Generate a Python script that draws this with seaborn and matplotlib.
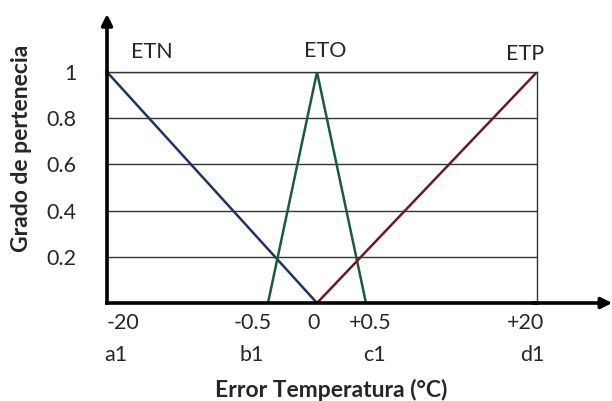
import numpy as np
import pandas as pd
import matplotlib
matplotlib.use("Agg")
import matplotlib.pyplot as plt
import seaborn as sns

# Data: membership functions (x in degC, y = membership degree)
etn_x = [-20, 0]
etn_y = [1, 0]
eto_x = [-0.5, 0, 0.5]
eto_y = [0, 1, 0]
etp_x = [0, 20]
etp_y = [0, 1]

x_ticks = [-20, -0.5, 0, 0.5, 20]
x_tick_labels = ["-20", "-0.5", "0", "+0.5", "+20"]
x_param_labels = ["a1", "b1", "c1", "d1"]
x_param_values = [-20, -0.5, 0.5, 20]
y_ticks = [0.2, 0.4, 0.6, 0.8, 1.0]
y_tick_labels = ["0.2", "0.4", "0.6", "0.8", "1"]

# the drawing is not to scale: breakpoints sit at these fractions of the axis
scale_pos = [0.0, 0.3744, 0.4884, 0.6023, 1.0]

df = pd.concat([
    pd.DataFrame({"x": etn_x, "y": etn_y, "set": "ETN"}),
    pd.DataFrame({"x": eto_x, "y": eto_y, "set": "ETO"}),
    pd.DataFrame({"x": etp_x, "y": etp_y, "set": "ETP"}),
])

sns.set_style("white")
plt.rcParams["font.family"] = ["Lato", "DejaVu Sans"]
fs = 15.5

fig = plt.figure(figsize=(6.12, 4.01), dpi=100)
ax = fig.add_axes([107 / 612, 98 / 401, 430 / 612, 231 / 401])


def fwd(v):
    return np.interp(v, x_ticks, scale_pos)


def inv(p):
    return np.interp(p, scale_pos, x_ticks)


ax.set_xscale("function", functions=(fwd, inv))

palette = {"ETN": "#1f3462", "ETO": "#1d5a3c", "ETP": "#6a1b1e"}
sns.lineplot(data=df, x="x", y="y", hue="set", palette=palette, lw=1.8,
             legend=False, ax=ax, sort=False, estimator=None)

ax.set_xlim(-20, 20)
ax.set_ylim(0, 1)
ax.set_xticks(x_ticks)
ax.set_xticklabels([])
ax.minorticks_off()
ax.set_yticks(y_ticks)
ax.set_yticklabels(y_tick_labels, fontsize=fs)
ax.tick_params(axis="y", length=0, pad=22)
ax.tick_params(axis="x", length=0)
ax.set_xlabel("")
ax.set_ylabel("")

ax.grid(axis="y", color="#333333", lw=1)
ax.grid(axis="x", visible=False)
for s in ["left", "bottom"]:
    ax.spines[s].set_linewidth(2.6)
    ax.spines[s].set_color("black")
for s in ["top", "right"]:
    ax.spines[s].set_linewidth(1)
    ax.spines[s].set_color("#333333")

# axis arrows
ax.annotate("", xy=(0, 1.251), xytext=(0, 0.99), xycoords="axes fraction",
            arrowprops=dict(arrowstyle="-|>", lw=2.6, color="black",
                            mutation_scale=16, shrinkA=0, shrinkB=0))
ax.annotate("", xy=(1.175, 0), xytext=(0.99, 0), xycoords="axes fraction",
            arrowprops=dict(arrowstyle="-|>", lw=2.6, color="black",
                            mutation_scale=16, shrinkA=0, shrinkB=0))

# x tick labels (hand placed like the original drawing)
tick_dx = [16, -15, -3, 4, -11]
for v, lab, dx in zip(x_ticks, x_tick_labels, tick_dx):
    ax.annotate(lab, xy=(v, 0), xycoords=("data", "axes fraction"),
                xytext=(dx, -20), textcoords="offset pixels",
                ha="center", va="center", fontsize=fs)
param_dx = [9, -16, 8, -5]
for v, lab, dx in zip(x_param_values, x_param_labels, param_dx):
    ax.annotate(lab, xy=(v, 0), xycoords=("data", "axes fraction"),
                xytext=(dx, -52), textcoords="offset pixels",
                ha="center", va="center", fontsize=fs)

# set names
ax.text(0.105, 1.087, "ETN", transform=ax.transAxes, ha="center", va="center", fontsize=fs)
ax.text(0.507, 1.092, "ETO", transform=ax.transAxes, ha="center", va="center", fontsize=fs)
ax.text(0.972, 1.079, "ETP", transform=ax.transAxes, ha="center", va="center", fontsize=fs)

fig.text(22 / 612, 1 - 148 / 401, "Grado de pertenecia", rotation=90,
         ha="center", va="center", fontsize=16.5, fontweight="bold")
fig.text(331 / 612, 1 - 390 / 401, "Error Temperatura (°C)",
         ha="center", va="center", fontsize=16.5, fontweight="bold")

fig.savefig("out.png", dpi=100)
